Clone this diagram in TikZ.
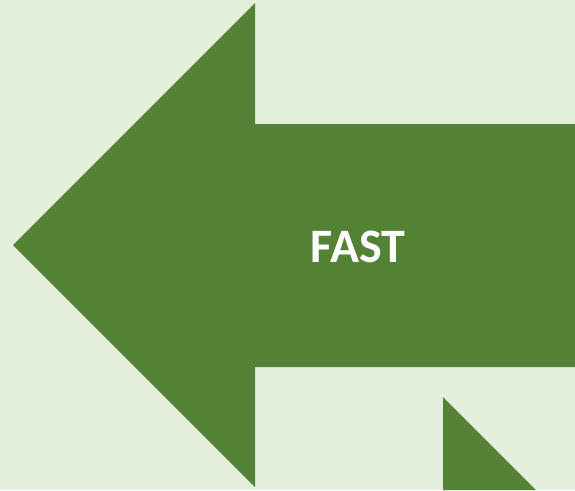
\documentclass[tikz,border=0pt]{standalone}
\usepackage{fontspec}
\setmainfont{Carlito}
\definecolor{bgc}{HTML}{E2EFDA}
\definecolor{arrowc}{HTML}{548235}
\begin{document}
\begin{tikzpicture}[x=1pt,y=-1pt,
  shapefill/.style={fill=arrowc,draw=none},
  label/.style={text=white,font=\bfseries\fontsize{48}{52}\selectfont,inner sep=0pt}]
\fill[bgc] (0,0) rectangle (575,490);
\useasboundingbox (0,0) rectangle (575,490);
\fill[shapefill] (13,245) -- (255,3) -- (255,124) -- (580,124) -- (580,367) -- (255,367) -- (255,487) -- cycle;
\fill[shapefill] (443,397) -- (536,490) -- (443,490) -- cycle;
\node[label] (fast) at (358,247) {FAST};
\end{tikzpicture}
\end{document}
